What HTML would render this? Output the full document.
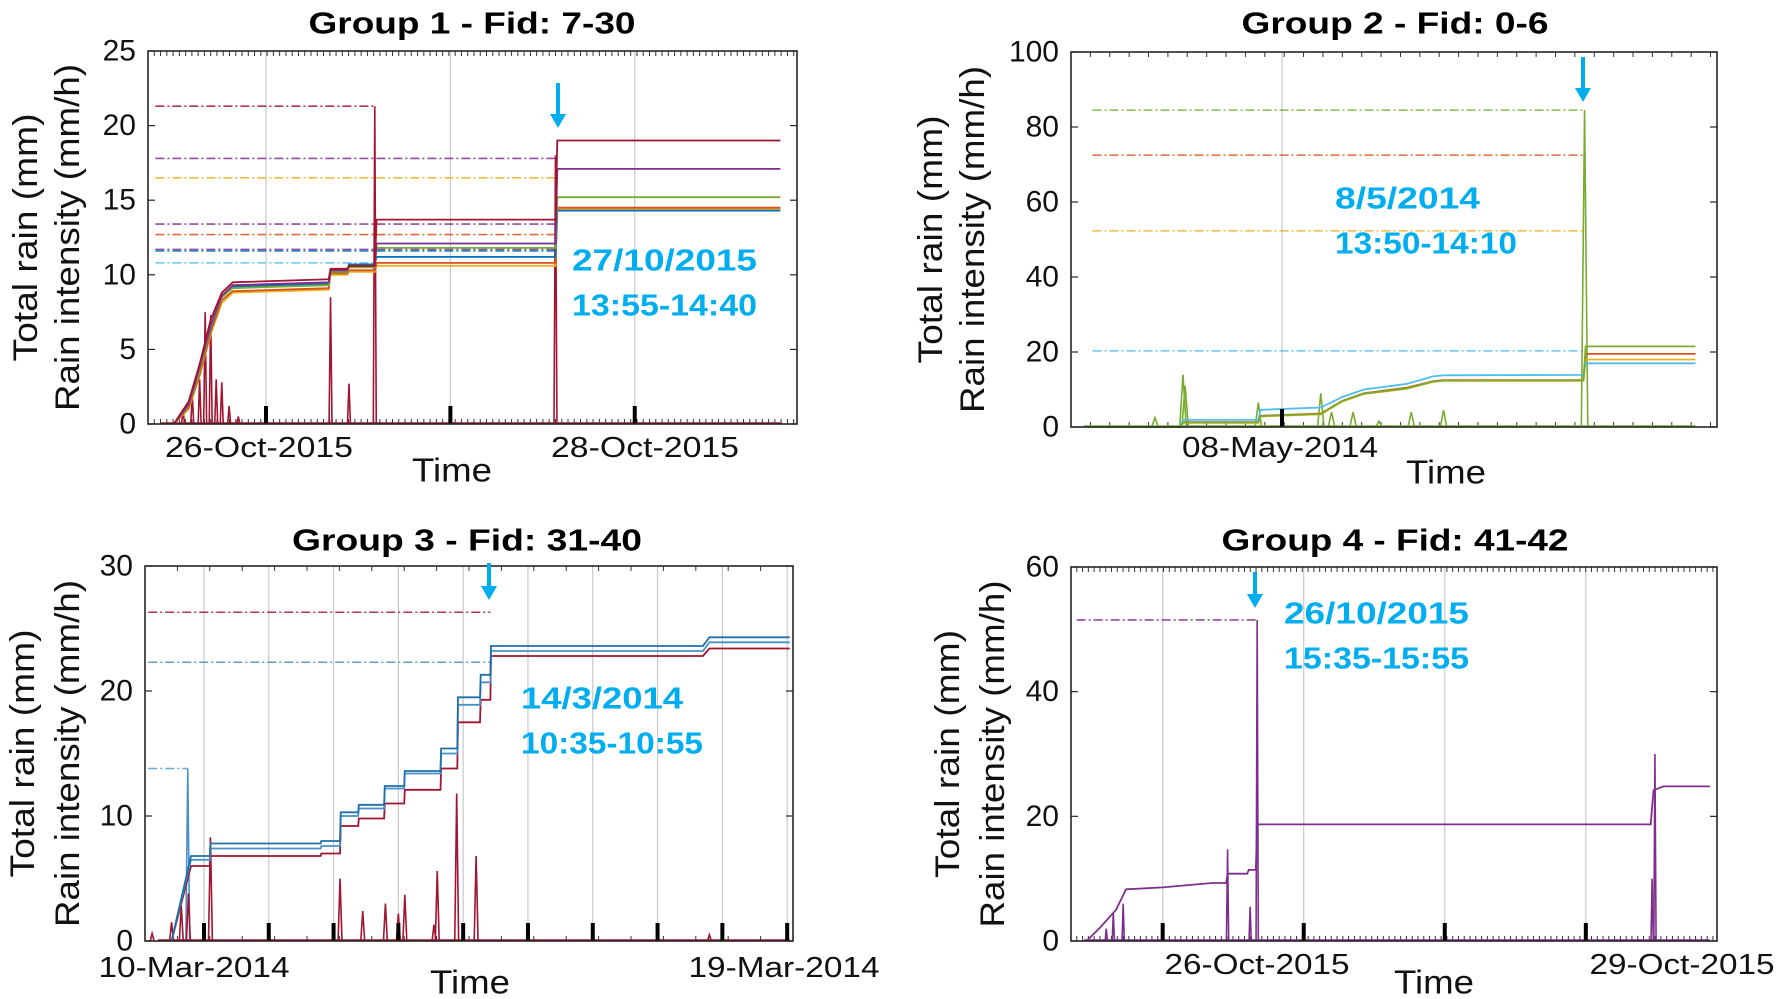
<!DOCTYPE html>
<html><head><meta charset="utf-8">
<style>
html,body{margin:0;padding:0;background:#fff;}
svg{display:block;}
text{font-family:"Liberation Sans",sans-serif;}
</style></head>
<body>
<svg id="fig" width="1777" height="999" viewBox="0 0 1777 999" xmlns="http://www.w3.org/2000/svg"></svg>
<script>
// ===== Panel 1 data (x: days since 26-Oct-2015) =====
const p1Times = [-0.5,-0.42,-0.36,-0.3,-0.24,-0.18,0.34,0.35,0.44,0.45,0.59,0.6,1.57,1.58,2.79];
const p1Red    = [0,1.5,4,7,8.8,9.5,9.7,10.4,10.4,10.6,10.6,13.7,13.7,19.0,19.0];
const p1Purple = [0,1.3,3.8,6.6,8.6,9.3,9.5,10.3,10.3,10.6,10.6,12.1,12.1,17.1,17.1];
const p1Green  = [0,1.2,3.5,6.5,8.5,9.1,9.3,10.2,10.2,10.5,10.5,11.8,11.8,15.2,15.2];
const p1Blue   = [0,1.4,3.7,6.4,8.6,9.2,9.4,10.2,10.2,10.7,10.7,11.2,11.2,14.3,14.3];
const p1Orange = [0,1.1,3.3,6.2,8.3,8.9,9.1,10.1,10.1,10.3,10.3,10.8,10.8,14.5,14.5];
const p1Yellow = [0,1.0,3.2,6.0,8.1,8.8,9.0,10.0,10.0,10.2,10.2,10.6,10.6,14.4,14.4];
const p1DashVals = [21.3,17.8,16.5,13.4,12.7,11.7,11.6,10.8];
const p1DashEnds = [0.59,1.57,1.57,1.57,1.57,1.57,1.57,1.57];
const p1SpikeX = [-0.45,-0.4,-0.36,-0.33,-0.3,-0.27,-0.24,-0.2,-0.15,0.35,0.45,0.59,1.57];
const p1SpikeY = [1.0,2.0,3.0,7.5,7.3,3.0,2.8,1.2,0.5,8.5,2.7,21.3,18.0];
const p1Ticks = [0,5,10,15,20,25];
const p1Grid = [0,1,2];

// ===== Panel 2 data (x: hours since 08-May-2014 00:00) =====
const p2Times = [-9,-4.7,-4.6,-1.1,-1.0,1.8,2.8,3.8,5.8,7.0,7.5,14.0,14.1,19.2];
const p2Cyan   = [0,0,1.9,1.9,4.6,5.2,8.0,10.0,11.5,13.5,13.8,13.9,17.0,17.0];
const p2Orange = [0,0,1.3,1.3,3.0,3.6,7.0,9.0,10.5,12.2,12.5,12.5,19.5,19.5];
const p2Yellow = [0,0,1.1,1.1,2.8,3.4,6.8,8.8,10.2,12.0,12.3,12.3,18.0,18.0];
const p2Green  = [0,0,1.2,1.2,2.9,3.5,6.9,8.9,10.3,12.1,12.4,12.4,21.5,21.5];
const p2DashVals = [84.5,72.5,52.3,20.3];
const p2SpikeX = [-5.9,-4.6,-4.5,-1.1,1.8,2.3,3.3,4.5,6.0,7.5,14.05];
const p2SpikeY = [2.5,14,11,6.5,9,4,4,1.5,4,4.5,84.5];
const p2Ticks = [0,20,40,60,80,100];
const p2Grid = [0];

// ===== Panel 3 data (x: days since 10-Mar-2014) =====
const p3Times = [-0.5,-0.2,0.09,0.1,1.8,1.81,2.1,2.11,2.38,2.39,2.78,2.79,3.09,3.1,3.65,3.66,3.91,3.92,4.26,4.27,4.42,4.43,7.7,7.8,9.04];
const p3Blue  = [0,6.8,6.8,7.8,7.8,8.0,8.0,10.3,10.3,10.9,10.9,12.4,12.4,13.6,13.6,15.4,15.4,19.5,19.5,21.3,21.3,23.6,23.6,24.3,24.3];
const p3Mid   = [0,6.5,6.5,7.4,7.4,7.6,7.6,10.0,10.0,10.6,10.6,12.2,12.2,13.4,13.4,15.0,15.0,18.9,18.9,20.7,20.7,23.2,23.2,23.9,23.9];
const p3Red   = [0,6.0,6.0,6.8,6.8,7.0,7.0,9.2,9.2,9.8,9.8,11.0,11.0,12.1,12.1,13.8,13.8,17.5,17.5,19.3,19.3,22.8,22.8,23.4,23.4];
const p3DashVals = [26.3,22.3,13.8];
const p3DashEnds = [4.42,4.42,-0.25];
const p3SpikeX = [-0.8,-0.5,-0.35,-0.25,-0.24,0.1,2.1,2.45,2.8,3.0,3.1,3.55,3.6,3.9,4.2,7.8];
const p3SpikeY = [0.6,1.5,2.8,13.8,3.8,8.3,5.0,2.4,3.0,2.2,3.7,1.3,5.6,11.8,6.8,0.5];
const p3Ticks = [0,10,20,30];
const p3Grid = [0,1,2,3,4,5,6,7,8,9];

// ===== Panel 4 data (x: days since 25-Oct-2015 gridline) =====
const p4Times = [-0.54,-0.45,-0.33,-0.26,0.0,0.35,0.45,0.46,0.6,0.61,0.66,0.67,3.46,3.48,3.55,3.88];
const p4Purple = [0,2.0,5.0,8.3,8.6,9.3,9.3,10.8,10.8,11.4,11.4,18.7,18.7,24.2,24.8,24.8];
const p4DashVals = [51.5];
const p4SpikeX = [-0.4,-0.35,-0.28,0.46,0.62,0.67,3.47,3.49];
const p4SpikeY = [2.0,4.5,6.0,14.7,5.5,51.5,10.0,30.0];
const p4Ticks = [0,20,40,60];
const p4Grid = [0,1,2,3];

const NS = "http://www.w3.org/2000/svg";
const svg = document.getElementById('fig');
function mk(tag, attrs, parent){
  const e = document.createElementNS(NS, tag);
  for (const k in attrs) e.setAttribute(k, attrs[k]);
  (parent||svg).appendChild(e);
  return e;
}
const C = {blue:'#0072BD',orange:'#D95319',yellow:'#EDB120',purple:'#7E2F8E',green:'#77AC30',cyan:'#4DBEEE',red:'#A2142F'};

function panel(cfg){
  const g = mk('g', {});
  
  
  const sx = v => cfg.L + (v - cfg.x0) / (cfg.x1 - cfg.x0) * (cfg.R - cfg.L);
  const sy = v => cfg.B - v / cfg.ymax * (cfg.B - cfg.T);
  cfg.grid.forEach(d => {
    const l = mk('line', {x1:sx(d), x2:sx(d), y1:cfg.T, y2:cfg.B, stroke:'#c8c8c8', 'stroke-width':1.2}, g);
    
    
  });
  for (let d = cfg.x0 + cfg.minor; d < cfg.x1; d += cfg.minor) {
    mk('line', {x1:sx(d), x2:sx(d), y1:cfg.B, y2:cfg.B-5, stroke:'#333', 'stroke-width':1}, g);
    mk('line', {x1:sx(d), x2:sx(d), y1:cfg.T, y2:cfg.T+5, stroke:'#333', 'stroke-width':1}, g);
  }
  cfg.dashes.forEach((v, i) => {
    const end = cfg.dashEnds ? cfg.dashEnds[i] : cfg.dashEnd;
    const l = mk('line', {x1:sx(cfg.dashStart), x2:sx(end), y1:sy(v), y2:sy(v), stroke:cfg.dashColors[i], 'stroke-width':1.6, 'stroke-dasharray':'9,3,2,3', opacity:0.85}, g);
    
    
  });
  cfg.spikeX.forEach((x, i) => {
    const w = cfg.spikeW;
    const col = (cfg.spikeColors && cfg.spikeColors[i]) || cfg.spikeColor;
    const p = mk('polyline', {points:`${sx(x-w)},${sy(0)} ${sx(x)},${sy(cfg.spikeY[i])} ${sx(x+w)},${sy(0)}`, fill:'none', stroke:col, 'stroke-width':1.6}, g);
    
    
  });
  mk('line', {x1:sx(cfg.x0+0.02*(cfg.x1-cfg.x0)), x2:sx(cfg.dataEnd), y1:sy(0)-1, y2:sy(0)-1, stroke:cfg.spikeColor, 'stroke-width':1.5}, g);
  cfg.series.forEach(s => {
    const pts = cfg.times.map((t, i) => `${sx(t).toFixed(1)},${sy(s.v[i]).toFixed(1)}`).join(' ');
    const p = mk('polyline', {points:pts, fill:'none', stroke:s.c, 'stroke-width':1.8}, g);
    
    
  });
  cfg.grid.forEach(d => {
    mk('rect', {x:sx(d)-2, y:cfg.B-18, width:4, height:18, fill:'#000'}, g);
  });
  const box = mk('rect', {x:cfg.L, y:cfg.T, width:cfg.R-cfg.L, height:cfg.B-cfg.T, fill:'none', stroke:'#262626', 'stroke-width':1.6}, g);
  
  
  cfg.yticks.forEach(v => {
    mk('line', {x1:cfg.L, x2:cfg.L+7, y1:sy(v), y2:sy(v), stroke:'#262626', 'stroke-width':1.2}, g);
    mk('line', {x1:cfg.R, x2:cfg.R-7, y1:sy(v), y2:sy(v), stroke:'#262626', 'stroke-width':1.2}, g);
    const t = mk('text', {x:cfg.L-12, y:sy(v), 'text-anchor':'end', 'dominant-baseline':'central', 'font-size':30, fill:'#111'}, g);
    t.textContent = v;
    
    
  });
  cfg.xlabels.forEach(xl => {
    const t = mk('text', {x:xl.x, y:cfg.xlY, 'text-anchor':'middle', 'dominant-baseline':'central', 'font-size':29, fill:'#111', textLength:xl.w, lengthAdjust:'spacingAndGlyphs'}, g);
    t.textContent = xl.t;
    
    
  });
  const tm = mk('text', {x:cfg.timeX, y:cfg.timeY, 'text-anchor':'middle', 'dominant-baseline':'central', 'font-size':33, fill:'#111', textLength:80, lengthAdjust:'spacingAndGlyphs'}, g);
  tm.textContent = 'Time';
  
  
  const cy = (cfg.T + cfg.B) / 2;
  [[cfg.yl1, 'Total rain (mm)', 248], [cfg.yl2, 'Rain intensity (mm/h)', 347]].forEach(([x, s, w]) => {
    const t = mk('text', {x:x, y:cy, transform:`rotate(-90 ${x} ${cy})`, 'text-anchor':'middle', 'dominant-baseline':'central', 'font-size':34, fill:'#111', textLength:w, lengthAdjust:'spacingAndGlyphs'}, g);
    t.textContent = s;
    
    
  });
  const ti = mk('text', {x:cfg.titleX, y:cfg.titleY, 'text-anchor':'middle', 'dominant-baseline':'central', 'font-size':31, 'font-weight':'bold', fill:'#000', textLength:cfg.titleW, lengthAdjust:'spacingAndGlyphs'}, g);
  ti.textContent = cfg.title;
  
  
  const a = cfg.arrow;
  const ag = mk('g', {}, g);
  
  
  mk('line', {x1:a[0], x2:a[0], y1:a[1], y2:a[2]-10, stroke:'#00AEEF', 'stroke-width':4}, ag);
  mk('polygon', {points:`${a[0]-8},${a[2]-14} ${a[0]+8},${a[2]-14} ${a[0]},${a[2]}`, fill:'#00AEEF'}, ag);
  cfg.ann.forEach(n => {
    const t = mk('text', {x:n.x, y:n.y, 'dominant-baseline':'central', 'font-size':31, 'font-weight':'bold', fill:'#00AEEF', textLength:n.w, lengthAdjust:'spacingAndGlyphs'}, g);
    t.textContent = n.t;
    
    
  });
}

panel({name:'panel-group-1', L:148, R:797, T:51, B:424, x0:-0.64, x1:2.88, ymax:25, minor:0.034, dataEnd:2.79,
  grid:p1Grid, yticks:p1Ticks, times:p1Times,
  series:[{v:p1Yellow,c:C.yellow},{v:p1Orange,c:C.orange},{v:p1Blue,c:C.blue},{v:p1Green,c:C.green},{v:p1Purple,c:C.purple},{v:p1Red,c:C.red}],
  dashes:p1DashVals, dashEnds:p1DashEnds, dashStart:-0.6,
  dashColors:['#A2142F','#7E2F8E','#EDB120','#7E2F8E','#D95319','#7E2F8E','#0072BD','#4DBEEE'],
  spikeX:p1SpikeX, spikeY:p1SpikeY, spikeW:0.008, spikeColor:C.red,
  xlabels:[{x:259,t:'26-Oct-2015',w:188},{x:645,t:'28-Oct-2015',w:188}], xlY:448, timeX:452, timeY:470,
  yl1:26, yl2:68, title:'Group 1 - Fid: 7-30', titleX:472, titleY:23, titleW:327,
  arrow:[558,83,128], ann:[{x:572,y:260,t:'27/10/2015',w:185},{x:572,y:305,t:'13:55-14:40',w:185}]});

panel({name:'panel-group-2', L:1071, R:1717, T:52, B:427, x0:-9.8, x1:20.2, ymax:100, minor:0.9, dataEnd:19.2,
  grid:p2Grid, yticks:p2Ticks, times:p2Times,
  series:[{v:p2Orange,c:C.orange},{v:p2Yellow,c:C.yellow},{v:p2Cyan,c:C.cyan},{v:p2Green,c:C.green}],
  dashes:p2DashVals, dashEnd:14.05, dashStart:-8.8,
  dashColors:['#77AC30','#D95319','#EDB120','#4DBEEE'],
  spikeX:p2SpikeX, spikeY:p2SpikeY, spikeW:0.15, spikeColor:C.green,
  xlabels:[{x:1280,t:'08-May-2014',w:196}], xlY:448, timeX:1446, timeY:472,
  yl1:931, yl2:973, title:'Group 2 - Fid: 0-6', titleX:1395, titleY:23, titleW:307,
  arrow:[1583,57,102], ann:[{x:1335,y:198,t:'8/5/2014',w:145},{x:1335,y:243,t:'13:50-14:10',w:182}]});

panel({name:'panel-group-3', L:145, R:793, T:566, B:941, x0:-0.91, x1:9.09, ymax:30, minor:0.5, dataEnd:9.04,
  grid:p3Grid, yticks:p3Ticks, times:p3Times,
  series:[{v:p3Red,c:C.red},{v:p3Mid,c:'#4A90C8'},{v:p3Blue,c:'#1F6FA8'}],
  dashes:p3DashVals, dashEnds:p3DashEnds, dashStart:-0.86,
  dashColors:['#A2142F','#4A8FB8','#4DA0D0'],
  spikeX:p3SpikeX, spikeY:p3SpikeY, spikeW:0.03, spikeColor:C.red,
  spikeColors:[null,null,null,'#4A90C8'],
  xlabels:[{x:194,t:'10-Mar-2014',w:191},{x:784,t:'19-Mar-2014',w:191}], xlY:968, timeX:470, timeY:982,
  yl1:23, yl2:68, title:'Group 3 - Fid: 31-40', titleX:467, titleY:540, titleW:350,
  arrow:[489,563,600], ann:[{x:521,y:698,t:'14/3/2014',w:162},{x:521,y:743,t:'10:35-10:55',w:182}]});

panel({name:'panel-group-4', L:1071, R:1717, T:567, B:941, x0:-0.65, x1:3.93, ymax:60, minor:0.041, dataEnd:3.88,
  grid:p4Grid, yticks:p4Ticks, times:p4Times,
  series:[{v:p4Purple,c:C.purple}],
  dashes:p4DashVals, dashEnd:0.67, dashStart:-0.61,
  dashColors:['#7E2F8E'],
  spikeX:p4SpikeX, spikeY:p4SpikeY, spikeW:0.008, spikeColor:C.purple,
  xlabels:[{x:1257,t:'26-Oct-2015',w:185},{x:1682,t:'29-Oct-2015',w:185}], xlY:965, timeX:1434, timeY:982,
  yl1:948, yl2:993, title:'Group 4 - Fid: 41-42', titleX:1395, titleY:540, titleW:347,
  arrow:[1255,572,608], ann:[{x:1284,y:613,t:'26/10/2015',w:185},{x:1284,y:658,t:'15:35-15:55',w:185}]});
</script>
</body></html>
